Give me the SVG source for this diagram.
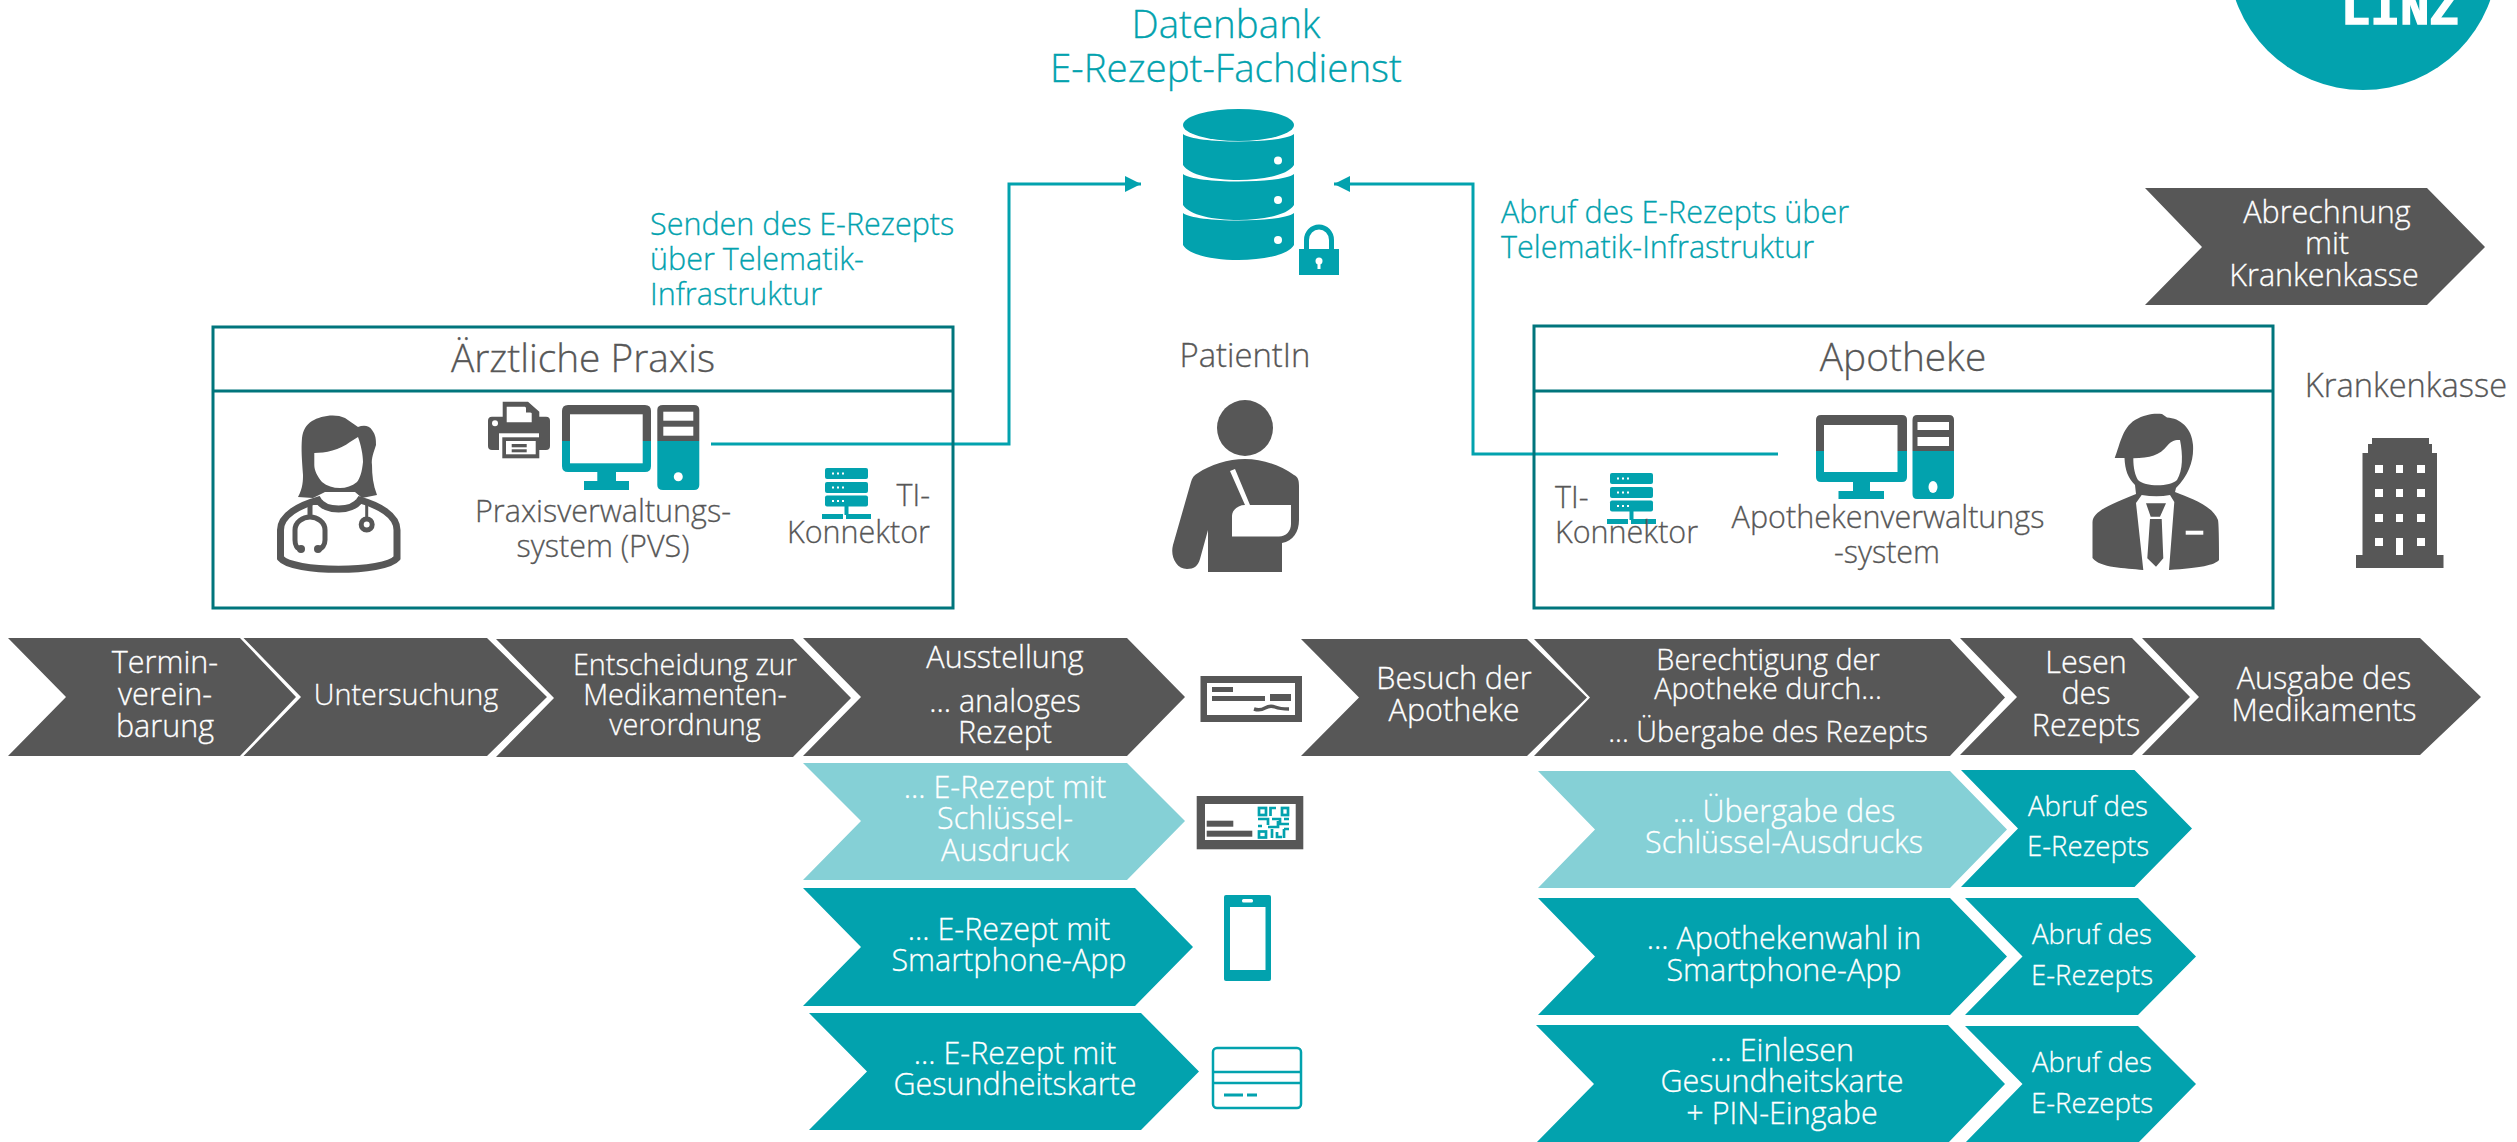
<svg xmlns="http://www.w3.org/2000/svg" width="2517" height="1142" viewBox="0 0 2517 1142">
<style>
text{font-family:"Open Sans","Noto Sans","DejaVu Sans",sans-serif;font-size:30.500px;font-weight:300;text-anchor:middle;stroke-width:.3px}
.g{fill:#575757}.t{fill:#02a2ae}.l{fill:#85d0d6}.w{fill:#fff}
.tw{fill:#fff;stroke:#fff}.tg{fill:#575757;stroke:#575757}.tt{fill:#02a2ae;stroke:#02a2ae}
.s{text-anchor:start}.big{font-size:38.500px}.h{font-size:38.800px}.sm{font-size:27.600px}.k{font-size:32.600px}.n{font-size:28.800px}
.box{fill:none;stroke:#00757c;stroke-width:3}
.con{fill:none;stroke:#02a2ae;stroke-width:3}
</style>
<defs>
<marker id="arr" markerUnits="userSpaceOnUse" markerWidth="16" markerHeight="16" refX="16" refY="8" orient="auto"><path d="M0 0L16 8L0 16Z" fill="#02a2ae"/></marker>
<g id="server"><rect x="0" y="0" width="43" height="11" rx="2" class="t"/><rect x="0" y="14" width="43" height="11" rx="2" class="t"/><rect x="0" y="27.500" width="43" height="11" rx="2" class="t"/><rect x="19.500" y="38" width="4" height="9" class="t"/><rect x="-3" y="46" width="21" height="5" class="t"/><rect x="21" y="46" width="25" height="5" class="t"/>
<g class="w"><rect x="7" y="4.500" width="2" height="2"/><rect x="12" y="4.500" width="2" height="2"/><rect x="17" y="4.500" width="2" height="2"/><rect x="7" y="18.500" width="2" height="2"/><rect x="12" y="18.500" width="2" height="2"/><rect x="17" y="18.500" width="2" height="2"/><rect x="7" y="32" width="2" height="2"/><rect x="12" y="32" width="2" height="2"/><rect x="17" y="32" width="2" height="2"/></g></g>
</defs>
<rect width="2517" height="1142" fill="#fff"/>

<g id="logo"><circle cx="2363" cy="-45" r="135" class="t"/><text x="2400" y="24" style="font-family:'Liberation Mono',monospace;font-weight:700;font-size:50px;stroke:#fff;stroke-width:1.500px" textLength="118" lengthAdjust="spacingAndGlyphs" class="tw">LINZ</text></g>

<g id="connectors">
<path class="con" d="M711 444H1009V184H1141" marker-end="url(#arr)"/>
<path class="con" d="M1778 454H1473V184H1334" marker-end="url(#arr)"/>
</g>

<g id="db-title"><text x="1226" y="38" class="big tt">Datenbank</text><text x="1226" y="82" class="big tt">E-Rezept-Fachdienst</text></g>
<g id="db-icon" class="t">
<ellipse cx="1238.500" cy="125" rx="55.500" ry="16"/>
<path d="M1183 134C1195 144 1282 144 1294 134V165C1282 185 1195 185 1183 165Z"/>
<path d="M1183 174C1195 184 1282 184 1294 174V205C1282 225 1195 225 1183 205Z"/>
<path d="M1183 213C1195 223 1282 223 1294 213V245C1282 265 1195 265 1183 245Z"/>
<g class="w"><circle cx="1278" cy="160.500" r="4"/><circle cx="1278" cy="200" r="4"/><circle cx="1278" cy="240" r="4"/></g>
<path d="M1299 249H1339V275H1299Z"/><path d="M1306.500 250V240A12.500 13 0 0 1 1331.500 240V250" fill="none" stroke="#02a2ae" stroke-width="5"/>
<circle cx="1319" cy="261" r="3.500" class="w"/><rect x="1317.500" y="262" width="3" height="7" class="w"/>
</g>
<g id="label-senden"><text x="650" y="235" class="s tt">Senden des E-Rezepts</text><text x="650" y="270" class="s tt">über Telematik-</text><text x="650" y="305" class="s tt">Infrastruktur</text></g>
<g id="label-abruf"><text x="1501" y="223" class="s tt">Abruf des E-Rezepts über</text><text x="1501" y="258" class="s tt">Telematik-Infrastruktur</text></g>

<g id="praxis">
<rect x="213" y="327" width="740" height="281" class="box"/><path d="M213 391H953" class="box" stroke-width="4"/>
<text x="583" y="372" class="h tg">Ärztliche Praxis</text>
<g id="doctor-icon">
<path d="M318 500C325 512 352 512 360 500C378 505 397 515 397 530V558C385 573 292 573 280.500 558V530C280.500 515 300 505 318 500Z" fill="#fff" stroke="#575757" stroke-width="7"/>
<path class="g" d="M298 497C303 488 303 480 303 475C302 460 301 450 302 438C303 430 306 425 312 421C320 416 335 413 345 418L358 427C363 425 369 425 372 430C376 435 376 440 376 445C374 452 371 458 372 465C372 475 373 485 377 495L362 498L355 492H325L313 498Z"/>
<path class="w" d="M314.300 453C325 453 340 450 350 442L358 437C361 445 363 455 363 462C362 472 360 478 357 482C352 486 346 488 340 488C333 488 327 486 322 482C317 476 314.300 470 314.300 465Z"/>
<path d="M325 497Q339 501 353 497L357 499Q339 506 321 499Z" class="w"/>
<path d="M310 505V517M301 549C297 549 295 545 295 540V530C295 522 303 517 310 517C317 517 325 522 325 530V540C325 545 322 549 318 549" fill="none" stroke="#575757" stroke-width="5"/>
<path d="M366.700 505V518" fill="none" stroke="#575757" stroke-width="3"/>
<circle cx="301" cy="549" r="4" class="g"/><circle cx="318" cy="549" r="4" class="g"/><circle cx="366.700" cy="524.500" r="5.500" fill="#fff" stroke="#575757" stroke-width="5"/>
</g>
<g id="pvs-icon">
<path class="g" d="M502.700 416.700V401.700H528L539.300 411.700V416.700H546Q550 416.700 550 420.700V446Q550 450 546 450H492Q488 450 488 446V420.700Q488 416.700 492 416.700Z"/>
<path class="w" d="M506.700 406.700H525L531.700 413.300V422.300H506.700Z"/>
<path class="g" d="M526 407L531.700 412.500H526Z"/>
<circle cx="495" cy="423.300" r="3" class="w"/>
<rect x="499" y="433.300" width="40" height="18" class="w"/>
<rect x="502.300" y="437.300" width="37" height="21" class="g"/><rect x="506" y="441" width="29.700" height="13.300" class="w"/><rect x="511.700" y="444" width="15" height="3.300" class="g"/><rect x="511.700" y="449.300" width="15" height="3" class="g"/>
<path class="g" d="M568 405H645Q651 405 651 411V441H562V411Q562 405 568 405Z"/>
<path class="t" d="M562 441H651V466Q651 472 645 472H568Q562 472 562 466Z"/>
<rect x="570" y="414.300" width="72.700" height="49" class="w"/>
<rect x="597.300" y="472" width="18.700" height="10" class="t"/><rect x="584" y="481" width="45" height="9" class="t"/>
<path class="g" d="M663 405H694Q699.300 405 699.300 410V441H657.300V410Q657.300 405 663 405Z"/>
<path class="t" d="M657.300 441H699.300V485Q699.300 490 694 490H663Q657.300 490 657.300 485Z"/>
<rect x="663.300" y="411.700" width="30" height="9" class="w"/><rect x="663.300" y="426.700" width="30" height="9" class="w"/><circle cx="678.300" cy="476.700" r="4.500" class="w"/>
</g>
<text x="603" y="522" class="tg">Praxisverwaltungs-</text><text x="603" y="557" class="tg">system (PVS)</text>
<use href="#server" x="825" y="468"/>
<text x="930" y="506" class="tg" style="text-anchor:end">TI-</text><text x="930" y="543" class="tg" style="text-anchor:end">Konnektor</text>
</g>

<g id="patient">
<text x="1245" y="367" class="tg" style="font-size:32.800px">PatientIn</text>
<ellipse cx="1245" cy="428" rx="28" ry="28" class="g"/>
<path class="g" d="M1208 572H1282V543C1293 541 1299 532 1299 520V486C1299 480 1298 477 1294 475C1280 465 1262 459 1245 459C1228 459 1210 465 1198 473C1194 475 1192 478 1191 482L1173 545C1170 556 1176 569 1187 569C1194 569 1198 566 1200 559L1208 530Z"/>
<path class="w" d="M1230 471L1235 469L1250 505H1291V524C1291 531 1286 536.500 1279 536.500H1232V516C1232 510 1238 505 1245 505Z"/>
</g>

<g id="apotheke">
<rect x="1534" y="326" width="739" height="282" class="box"/><path d="M1534 391H2273" class="box" stroke-width="4"/>
<text x="1903" y="371" class="h tg">Apotheke</text>
<use href="#server" x="1610" y="473"/>
<text x="1555" y="508" class="s tg">TI-</text><text x="1555" y="543" class="s tg">Konnektor</text>
<g id="avs-icon">
<path class="g" d="M1821 415H1902Q1907 415 1907 420V451H1816V420Q1816 415 1821 415Z"/>
<path class="t" d="M1816 451H1907V477Q1907 482 1902 482H1821Q1816 482 1816 477Z"/>
<rect x="1824" y="425" width="73.500" height="47" class="w"/>
<rect x="1853" y="482" width="17" height="10" class="t"/><rect x="1838.500" y="491" width="45.500" height="8" class="t"/>
<path class="g" d="M1917 415H1949Q1954 415 1954 420V451H1912.500V420Q1912.500 415 1917 415Z"/>
<path class="t" d="M1912.500 451H1954V494Q1954 499 1949 499H1917Q1912.500 499 1912.500 494Z"/>
<rect x="1917.500" y="422" width="31.500" height="8" class="w"/><rect x="1917.500" y="437" width="31.500" height="9" class="w"/><ellipse cx="1933" cy="487" rx="4.500" ry="6" class="w"/>
</g>
<text x="1888" y="528" class="tg">Apothekenverwaltungs</text><text x="1887" y="563" class="tg">-system</text>
<g id="pharmacist-icon">
<path class="g" d="M2114.700 458C2120 445 2122 428 2135 420C2145 414 2155 413 2162 414L2167 417.500C2180 418 2192 428 2193 445C2194 460 2189 475 2176 488L2175 492C2190 498 2212 505 2218 520Q2219 525 2219 560C2215 565 2200 568 2169 570H2143C2125 568 2100 568 2092.500 558V522C2093 510 2115 503 2136 494L2135 485C2128 478 2125 470 2124.500 458Z"/>
<path class="w" d="M2133.300 458.300C2150 458 2160 455 2167 446C2172 440 2176 440 2180 440C2183 455 2183 470 2177 480C2170 487 2145 487 2138 480C2135 475 2133.300 468 2133.300 458.300Z"/>
<path class="w" d="M2141.700 495Q2157 497.500 2170 495L2174.300 502L2169 570H2143.300L2136 503Z"/>
<path class="g" d="M2146 503.300H2166L2160 516.700H2150.700ZM2150 519H2161.700L2163.300 558.300L2156 566.700L2147.300 558.300Z"/>
<rect x="2185.700" y="530.700" width="17.600" height="4" class="w"/>
</g>
</g>

<g id="krankenkasse">
<text x="2406" y="397" class="k tg">Krankenkasse</text>
<path class="g" d="M2372 438H2429V444H2432V453H2437V555H2443.500V568H2356V555H2362.500V453H2368V444H2372Z"/>
<g class="w"><rect x="2375" y="465" width="8" height="8"/><rect x="2396" y="465" width="7" height="8"/><rect x="2417" y="465" width="8" height="8"/><rect x="2375" y="489" width="8" height="8"/><rect x="2396" y="489" width="7" height="8"/><rect x="2417" y="489" width="8" height="8"/><rect x="2375" y="514" width="8" height="8"/><rect x="2396" y="514" width="7" height="8"/><rect x="2417" y="514" width="8" height="8"/><rect x="2375" y="538" width="8" height="8"/><rect x="2396" y="538" width="7" height="17"/><rect x="2417" y="538" width="8" height="8"/></g>
</g>

<g id="abrechnung"><polygon class="g" points="2145,188 2427,188 2485,247 2427,305 2145,305 2202,247"/><text x="2327" y="223" class="tw">Abrechnung</text><text x="2327" y="254" class="tw">mit</text><text x="2324" y="286" class="tw">Krankenkasse</text></g>

<g id="termin"><polygon class="g" points="8,638 240,638 296,697 240,756 8,756 66,697"/><text x="165" y="673" class="tw">Termin-</text><text x="165" y="705" class="tw">verein-</text><text x="165" y="737" class="tw">barung</text></g>
<g id="untersuchung"><polygon class="g" points="243.500,638 487,638 547,697 487,756 243.500,756 301,697"/><text x="406" y="705" class="n tw">Untersuchung</text></g>
<g id="entscheidung"><polygon class="g" points="496,639 793,639 851,698 793,757 496,757 554,698"/><text x="685" y="675" class="n tw">Entscheidung zur</text><text x="685" y="705" class="n tw">Medikamenten-</text><text x="685" y="735" class="n tw">verordnung</text></g>
<g id="ausstellung"><polygon class="g" points="803,638 1127,638 1185,697 1127,756 803,756 861,697"/><text x="1005" y="668" class="tw">Ausstellung</text><text x="1005" y="712" class="tw">... analoges</text><text x="1005" y="743" class="tw">Rezept</text></g>
<g id="e-schluessel"><polygon class="l" points="803,763 1127,763 1185,821 1127,880 803,880 861,821"/><text x="1005" y="798" class="tw">... E-Rezept mit</text><text x="1005" y="829" class="tw">Schlüssel-</text><text x="1005" y="861" class="tw">Ausdruck</text></g>
<g id="e-app"><polygon class="t" points="803,888 1135,888 1193,947 1135,1006 803,1006 861,947"/><text x="1009" y="940" class="tw">... E-Rezept mit</text><text x="1009" y="971" class="tw">Smartphone-App</text></g>
<g id="e-karte"><polygon class="t" points="809,1013 1141,1013 1199,1071.500 1141,1130 809,1130 867,1071.500"/><text x="1015" y="1064" class="tw">... E-Rezept mit</text><text x="1015" y="1095" class="tw">Gesundheitskarte</text></g>

<g id="icon-analog"><rect x="1200.500" y="676" width="101.500" height="46" class="g"/><rect x="1207" y="683" width="88" height="32" class="w"/><rect x="1212" y="687" width="21" height="5" class="g"/><rect x="1212" y="696" width="53" height="5" class="g"/><rect x="1270" y="694" width="21" height="7" class="g"/><path d="M1254 709Q1260 711 1265 708T1275 707T1289 709" fill="none" stroke="#575757" stroke-width="3.500"/></g>
<g id="icon-qr"><rect x="1196.700" y="796" width="106.600" height="53.300" class="g"/><rect x="1205" y="804" width="90.700" height="36" class="w"/><rect x="1206.700" y="820.700" width="26.600" height="6" class="g"/><rect x="1206.700" y="830.700" width="45.600" height="6" class="g"/>
<g fill="none" stroke="#02a2ae" stroke-width="2.700"><rect x="1259" y="808" width="7" height="7"/><rect x="1282" y="808" width="6" height="7"/><rect x="1259" y="831.500" width="7" height="6"/><path d="M1270.500 816V808H1276M1258 819H1268V825M1258 826H1262M1272 819H1280V824H1289M1268 827H1278V821M1272 829V838M1277 832V837H1282M1284 829V838M1289 829H1284M1284 819H1289"/></g></g>
<g id="icon-phone"><rect x="1224" y="895" width="47" height="86" rx="2" class="t"/><rect x="1230" y="907" width="35.500" height="63" class="w"/><rect x="1242" y="899" width="11" height="3.500" rx="1.500" class="w"/></g>
<g id="icon-card"><rect x="1213" y="1048" width="88" height="60" rx="4" fill="none" stroke="#02a2ae" stroke-width="2.500"/><path d="M1213 1072H1301M1213 1083H1301" stroke="#02a2ae" stroke-width="2.500"/><path d="M1224 1095H1243M1247 1095H1257" stroke="#02a2ae" stroke-width="3"/></g>

<g id="besuch"><polygon class="g" points="1301,639 1527,639 1587,697.500 1527,756 1301,756 1359,697.500"/><text x="1454" y="689" class="tw">Besuch der</text><text x="1454" y="721" class="tw">Apotheke</text></g>
<g id="berechtigung"><polygon class="g" points="1534,639 1950,639 2005,697.500 1950,756 1534,756 1590,697.500"/><text x="1768" y="670" class="n tw">Berechtigung der</text><text x="1768" y="699" class="n tw">Apotheke durch...</text><text x="1768" y="742" class="n tw">... Übergabe des Rezepts</text></g>
<g id="lesen"><polygon class="g" points="1960,638 2132,638 2190,697 2132,755 1960,755 2017,697"/><text x="2086" y="673" class="tw">Lesen</text><text x="2086" y="704" class="tw">des</text><text x="2086" y="736" class="tw">Rezepts</text></g>
<g id="ausgabe"><polygon class="g" points="2142,638 2420,638 2481,697 2420,755 2142,755 2199,697"/><text x="2324" y="689" class="tw">Ausgabe des</text><text x="2324" y="721" class="tw">Medikaments</text></g>
<g id="uebergabe"><polygon class="l" points="1538,771 1950,771 2007,829.500 1950,888 1538,888 1595,829.500"/><text x="1784" y="822" class="tw">... Übergabe des</text><text x="1784" y="853" class="tw">Schlüssel-Ausdrucks</text></g>
<g id="abruf-1"><polygon class="t" points="1961,770 2134.500,770 2192,828.500 2134.500,887 1961,887 2018,828.500"/><text x="2088" y="816" class="sm tw">Abruf des</text><text x="2088" y="856" class="sm tw">E-Rezepts</text></g>
<g id="apothekenwahl"><polygon class="t" points="1538,898 1950,898 2007,956.500 1950,1015 1538,1015 1595,956.500"/><text x="1784" y="949" class="tw">... Apothekenwahl in</text><text x="1784" y="981" class="tw">Smartphone-App</text></g>
<g id="abruf-2"><polygon class="t" points="1965,898 2138,898 2196,956.500 2138,1015 1965,1015 2022.500,956.500"/><text x="2092" y="944" class="sm tw">Abruf des</text><text x="2092" y="985" class="sm tw">E-Rezepts</text></g>
<g id="einlesen"><polygon class="t" points="1536,1025 1948,1025 2005,1084 1948,1143 1536,1143 1594,1084"/><text x="1782" y="1061" class="tw">... Einlesen</text><text x="1782" y="1092" class="tw">Gesundheitskarte</text><text x="1782" y="1124" class="tw">+ PIN-Eingabe</text></g>
<g id="abruf-3"><polygon class="t" points="1965,1026 2138,1026 2196,1084 2138,1143 1965,1143 2022.500,1084"/><text x="2092" y="1072" class="sm tw">Abruf des</text><text x="2092" y="1113" class="sm tw">E-Rezepts</text></g>
</svg>
